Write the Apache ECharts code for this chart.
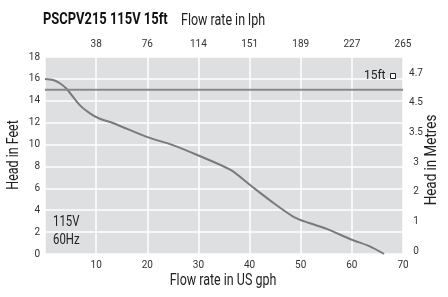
<!DOCTYPE html>
<html>
<head>
<meta charset="utf-8">
<script src="https://cdn.jsdelivr.net/npm/echarts@6/dist/echarts.min.js"></script>
<style>
  html, body { margin: 0; padding: 0; background: #fff; }
  #chart { width: 448px; height: 297px; }
</style>
</head>
<body>
<div id="chart"></div>
<script>
  // pump curve
  var flowGph = [0, 1.6, 2.9, 4.2, 6.8, 8.8, 10.5, 13.4, 19.9, 25, 30, 36.2, 40.1, 44, 48.6, 51.5, 55.1, 60, 63.5, 66.3];
  var headFt = [16, 15.9, 15.6, 15.1, 13.6, 12.85, 12.4, 11.95, 10.7, 9.95, 9.0, 7.7, 6.3, 4.9, 3.4, 2.85, 2.3, 1.3, 0.7, 0];
  var refFlow = [0, 70];
  var refHead = [15, 15];
  var lphLabels = ['', '38', '76', '114', '151', '189', '227', '265'];
  var metreLabels = ['0', '1', '2', '3', '3.5', '4.5', '4.7'];

  var font = 'Roboto, "Liberation Sans", sans-serif';
  var curve = [];
  for (var i = 0; i < flowGph.length; i++) curve.push([flowGph[i], headFt[i]]);
  var ref = [];
  for (var j = 0; j < refFlow.length; j++) ref.push([refFlow[j], refHead[j]]);

  // squeezed text, the original uses a condensed face
  function label(txt, x, y, size, opts) {
    opts = opts || {};
    return {
      type: 'text', x: x, y: y, rotation: opts.rot || 0, scaleX: opts.sx || 0.78, z: 10,
      style: {
        text: txt, fill: opts.color || '#222',
        font: (opts.bold ? 'bold ' : '') + size + 'px ' + font,
        textAlign: opts.align || 'left', textVerticalAlign: 'middle',
        align: opts.align || 'left', verticalAlign: 'middle', lineHeight: opts.lh || size
      }
    };
  }

  var chart = echarts.init(document.getElementById('chart'));
  var option = {
    animation: false,
    textStyle: { fontFamily: font },
    graphic: [
      label('PSCPV215 115V 15ft', 43, 20, 17, { bold: true, color: '#111', sx: 0.76 }),
      label('Flow rate in lph', 181, 21, 16),
      label('115V\n60Hz', 53, 231, 15, { lh: 18, sx: 0.76 }),
      label('Head in Feet', 14, 155, 16, { rot: Math.PI / 2, align: 'center' }),
      label('Head in Metres', 432, 160, 16, { rot: Math.PI / 2, align: 'center', sx: 0.84 }),
      label('Flow rate in US gph', 223, 281, 16, { align: 'center' })
    ],
    legend: {
      data: [{ name: '15ft', icon: 'rect',
        itemStyle: { color: '#fff', borderColor: '#222', borderWidth: 1 } }],
      right: 47, top: 65, align: 'right',
      itemWidth: 5, itemHeight: 5, itemGap: 4,
      textStyle: { fontFamily: font, fontSize: 12, color: '#222', padding: [0, 0, 0, 0] }
    },
    grid: [
      { left: 45, right: 45, top: 57, bottom: 43, show: true,
        backgroundColor: '#dedfe1', borderWidth: 0 },
      { left: 45, right: 45, top: 73, bottom: 46 }
    ],
    xAxis: [
      { type: 'value', gridIndex: 0, min: 0, max: 70, interval: 10, position: 'bottom',
        axisLine: { show: false }, axisTick: { show: false },
        axisLabel: { showMinLabel: false, fontSize: 10, color: '#333', margin: 6, fontFamily: font },
        splitLine: { show: true, lineStyle: { color: '#fff', width: 1.5 } } },
      { type: 'value', gridIndex: 0, min: 0, max: 70, interval: 10, position: 'top',
        axisLine: { show: false }, axisTick: { show: false },
        axisLabel: { fontSize: 10, color: '#333', margin: 8, fontFamily: font,
          formatter: function (v) { return lphLabels[Math.round(v / 10)]; } },
        splitLine: { show: false } },
      { type: 'value', gridIndex: 1, min: 0, max: 70, show: false }
    ],
    yAxis: [
      { type: 'value', gridIndex: 0, min: 0, max: 18, interval: 2,
        axisLine: { show: false }, axisTick: { show: false },
        axisLabel: { fontSize: 10, color: '#333', margin: 5, fontFamily: font },
        splitLine: { show: true, lineStyle: { color: '#fff', width: 1.5 } } },
      { type: 'value', gridIndex: 1, min: 0, max: 6, interval: 1, position: 'right',
        axisLine: { show: false }, axisTick: { show: false },
        axisLabel: { fontSize: 10, color: '#333', margin: 13, align: 'center', fontFamily: font,
          formatter: function (v) { return metreLabels[Math.round(v)]; } },
        splitLine: { show: false } }
    ],
    series: [
      { name: 'curve', type: 'line', xAxisIndex: 0, yAxisIndex: 0, data: curve,
        smooth: 0.3, showSymbol: false, lineStyle: { color: '#7a7a7a', width: 2 } },
      { name: '15ft', type: 'line', xAxisIndex: 0, yAxisIndex: 0, data: ref,
        showSymbol: false, lineStyle: { color: '#8a8a8a', width: 2 } }
    ]
  };
  chart.setOption(option);
</script>
</body>
</html>
